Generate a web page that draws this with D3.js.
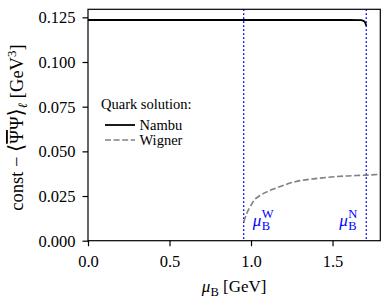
<!DOCTYPE html>
<html>
<head>
<meta charset="utf-8">
<script src="https://cdn.jsdelivr.net/npm/d3@7"></script>
<style>
  body { margin: 0; background: #fff; }
  svg text { font-family: "Liberation Serif", "DejaVu Serif", serif; }
</style>
</head>
<body>
<div id="chart"></div>
<script>
// Nambu solution (black solid)
var nambuMu  = [0.0, 0.4, 0.8, 1.2, 1.6, 1.675, 1.688, 1.697, 1.703, 1.707];
var nambuVal = [0.1235, 0.1235, 0.1235, 0.1235, 0.1235, 0.1234, 0.1231, 0.1225, 0.1214, 0.1203];

// Wigner solution (grey dashed)
var wignerMu  = [0.955, 0.975, 1.0, 1.02, 1.045, 1.08, 1.15, 1.27, 1.41, 1.58, 1.71, 1.793];
var wignerVal = [0.0105, 0.0155, 0.0198, 0.0228, 0.0246, 0.0266, 0.0293, 0.0330, 0.0349, 0.0362, 0.0367, 0.0372];

// critical chemical potentials (blue dotted)
var muW = 0.955;
var muN = 1.707;

var xTicks = [0.0, 0.5, 1.0, 1.5];
var yTicks = [0.000, 0.025, 0.050, 0.075, 0.100, 0.125];

var W = 390, H = 299;
var margin = { top: 9.3, right: 9.7, bottom: 58.3, left: 88 };
var width = W - margin.left - margin.right;
var height = H - margin.top - margin.bottom;

var svg = d3.select("#chart").append("svg")
  .attr("width", W)
  .attr("height", H);

var g = svg.append("g")
  .attr("transform", "translate(" + margin.left + "," + margin.top + ")");

var x = d3.scaleLinear().domain([0, 1.793]).range([0, width]);
var y = d3.scaleLinear().domain([0, 0.1295]).range([height, 0]);

// axes
var xAxis = g.append("g")
  .attr("transform", "translate(0," + height + ")")
  .call(d3.axisBottom(x).tickValues(xTicks).tickFormat(d3.format(".1f")).tickSize(5.5).tickPadding(5));
var yAxis = g.append("g")
  .call(d3.axisLeft(y).tickValues(yTicks).tickFormat(d3.format(".3f")).tickSize(5.5).tickPadding(7));

[xAxis, yAxis].forEach(function (a) {
  a.attr("font-family", "'Liberation Serif', serif").attr("font-size", 16.5);
  a.select(".domain").remove();
  a.selectAll(".tick line").attr("stroke", "#000").attr("stroke-width", 1.2);
  a.selectAll(".tick text").attr("fill", "#000");
});
xAxis.selectAll(".tick text").attr("dy", "0.95em");
yAxis.selectAll(".tick text").attr("dy", "0.34em");

// vertical dotted markers
[muW, muN].forEach(function (m) {
  g.append("line")
    .attr("x1", x(m)).attr("x2", x(m))
    .attr("y1", 0).attr("y2", height)
    .attr("stroke", "#0000ff")
    .attr("stroke-width", 1.3)
    .attr("stroke-dasharray", "1.6,2.4");
});

var line = d3.line().curve(d3.curveMonotoneX)
  .x(function (d) { return x(d[0]); })
  .y(function (d) { return y(d[1]); });

g.append("path")
  .datum(d3.zip(wignerMu, wignerVal))
  .attr("d", line)
  .attr("fill", "none")
  .attr("stroke", "#808080")
  .attr("stroke-width", 1.6)
  .attr("stroke-dasharray", "6,2.6");

g.append("path")
  .datum(d3.zip(nambuMu, nambuVal))
  .attr("d", line)
  .attr("fill", "none")
  .attr("stroke", "#000")
  .attr("stroke-width", 1.8);

// frame
g.append("rect")
  .attr("width", width).attr("height", height)
  .attr("fill", "none")
  .attr("stroke", "#000")
  .attr("stroke-width", 1.2);

// mu_B^W and mu_B^N labels
function muLabel(px, baseline, sup, anchorEnd) {
  var lab = g.append("g").attr("fill", "#0000ff");
  var mu = lab.append("text")
    .attr("y", baseline)
    .style("font-size", "17px")
    .style("font-style", "italic")
    .text("μ");
  var mw = mu.node().getComputedTextLength();
  var b = lab.append("text")
    .attr("x", mw + 0.5).attr("y", baseline + 4.5)
    .style("font-size", "12.5px")
    .text("B");
  var s = lab.append("text")
    .attr("x", mw + 0.5).attr("y", baseline - 8)
    .style("font-size", "12.5px")
    .text(sup);
  var tw = mw + 0.5 + Math.max(b.node().getComputedTextLength(), s.node().getComputedTextLength());
  var x0 = anchorEnd ? px - tw : px;
  lab.attr("transform", "translate(" + x0 + ",0)");
}
muLabel(x(muW) + 9, 226 - margin.top, "W", false);
muLabel(x(muN) - 9, 226 - margin.top, "N", true);

// legend
var legend = g.append("g").attr("transform", "translate(" + (101 - margin.left) + "," + (109 - margin.top) + ")");
legend.append("text").style("font-size", "14.5px").text("Quark solution:");
var legItems = [
  { name: "Nambu", color: "#000", dash: null, w: 1.8 },
  { name: "Wigner", color: "#808080", dash: "6,2.6", w: 1.6 }
];
legItems.forEach(function (d, i) {
  var yy = 16 + i * 15;
  legend.append("line")
    .attr("x1", 4).attr("x2", 34)
    .attr("y1", yy).attr("y2", yy)
    .attr("stroke", d.color)
    .attr("stroke-width", d.w)
    .attr("stroke-dasharray", d.dash);
  legend.append("text")
    .attr("x", 38.5).attr("y", yy + 4.5)
    .style("font-size", "14.5px")
    .text(d.name);
});

// x axis label
var xl = svg.append("text")
  .attr("x", margin.left + width / 2).attr("y", 292)
  .attr("text-anchor", "middle")
  .style("font-size", "17px");
xl.append("tspan").style("font-style", "italic").text("μ");
xl.append("tspan").attr("dy", 4).style("font-size", "12.5px").text("B");
xl.append("tspan").attr("dy", -4).text(" [GeV]");

// y axis label
var yl = svg.append("text")
  .attr("transform", "translate(23,127.5) rotate(-90)")
  .attr("text-anchor", "middle")
  .style("font-size", "18.5px");
yl.append("tspan").text("const − ");
yl.append("tspan").style("font-size", "21px").text("⟨");
yl.append("tspan").style("text-decoration", "overline").text("Ψ");
yl.append("tspan").text("Ψ");
yl.append("tspan").style("font-size", "21px").text("⟩");
yl.append("tspan").attr("dy", 4).style("font-size", "13px").style("font-style", "italic").text("ℓ");
yl.append("tspan").attr("dy", -4).text(" [GeV");
yl.append("tspan").attr("dy", -7).style("font-size", "13px").text("3");
yl.append("tspan").attr("dy", 7).text("]");
</script>
</body>
</html>
